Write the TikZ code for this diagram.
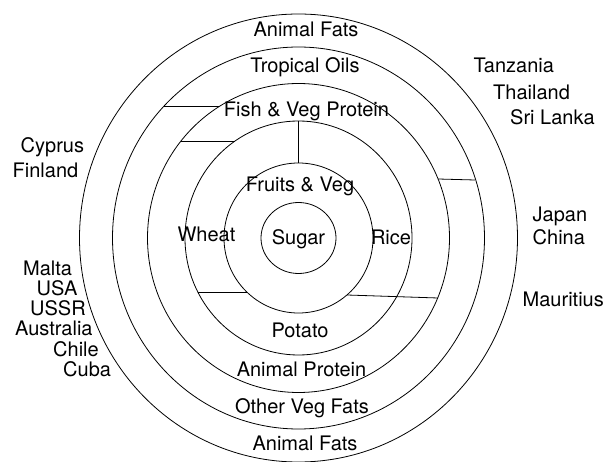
\documentclass[tikz,border=0pt]{standalone}
\usepackage{fontspec}
\setmainfont{TeX Gyre Heros}
\usetikzlibrary{positioning}
\tikzset{
  ring/.style={line width=0.8pt},
  divider/.style={line width=0.8pt},
  lbl/.style={font=\fontsize{20}{23}\selectfont,inner sep=0pt,
    text height=0.72em,text depth=0pt},
  lleft/.style={lbl,anchor=west}
}
\begin{document}
\begin{tikzpicture}[x=1pt,y=-1pt]
      \useasboundingbox (0,0) rectangle (608,462);
      \coordinate (c) at (298.5,238);
      % rings, outside in
      \foreach \rx/\ry in {219/224,186/191,151/154.5,113.5/117,74.5/75,37.5/35.5}
        \draw[ring] (c) ellipse [x radius=\rx,y radius=\ry];
      % dividers between the rings
      \draw[divider] (164,106)--(219,106);
      \draw[divider] (181,141)--(235,141);
      \draw[divider] (438,179)--(475,180);
      \draw[divider] (198,292)--(247,292);
      \draw[divider] (347,295)--(438,298);
      \draw[divider] (298,121)--(298,163);
      % foods
      \node[lbl] (fatsTop) at (306,33) {Animal Fats};
      \node[lbl] (tropOils) at (305,69) {Tropical Oils};
      \node[lbl] (fishVeg) at (306.5,112.5) {Fish \& Veg Protein};
      \node[lbl] (fruitVeg) at (300,188) {Fruits \& Veg};
      \node[lbl] (wheat) at (206.5,238) {Wheat};
      \node[lbl] (sugar) at (298.5,241) {Sugar};
      \node[lbl] (rice) at (391,241) {Rice};
      \node[lbl] (potato) at (300,334) {Potato};
      \node[lbl] (animProt) at (301.5,372.5) {Animal Protein};
      \node[lbl] (vegFats) at (302,410) {Other Veg Fats};
      \node[lbl] (fatsBot) at (305,447) {Animal Fats};
      % countries, left
      \node[lleft] (cyprus) at (20.5,149) {Cyprus};
      \node[lleft] (finland) at (12.5,173.5) {Finland};
      \node[lleft] (malta) at (23,271.5) {Malta};
      \node[lleft] (usa) at (36.5,291.5) {USA};
      \node[lleft] (ussr) at (30,311.5) {USSR};
      \node[lleft] (australia) at (15,331.5) {Australia};
      \node[lleft] (chile) at (53,352.5) {Chile};
      \node[lleft] (cuba) at (63,372.5) {Cuba};
      % countries, right
      \node[lleft] (tanzania) at (473.5,69) {Tanzania};
      \node[lleft] (thailand) at (493,96) {Thailand};
      \node[lleft] (srilanka) at (510,121) {Sri Lanka};
      \node[lleft] (japan) at (532.5,217.5) {Japan};
      \node[lleft] (china) at (532.5,241) {China};
      \node[lleft] (mauritius) at (522.5,302.5) {Mauritius};
    \end{tikzpicture}
\end{document}
